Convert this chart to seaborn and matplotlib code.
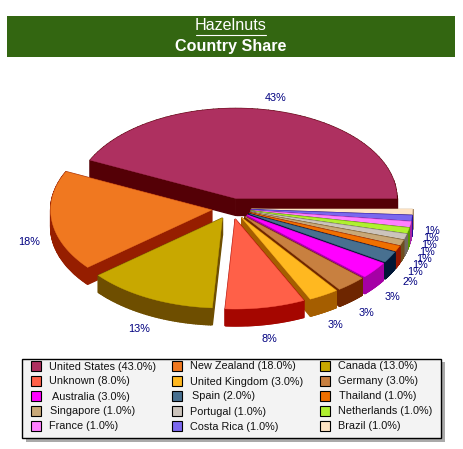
import numpy as np
import matplotlib.pyplot as plt
from matplotlib.colors import to_rgb
from matplotlib.patches import Rectangle
import seaborn as sns

countries = ['United States', 'New Zealand', 'Canada', 'Unknown', 'United Kingdom', 'Germany',
             'Australia', 'Spain', 'Thailand', 'Singapore', 'Portugal', 'Netherlands',
             'France', 'Costa Rica', 'Brazil']
shares = [43, 18, 13, 8, 3, 3, 3, 2, 1, 1, 1, 1, 1, 1, 1]
hex_colors = ['#AE3060', '#F07820', '#C8A800', '#FF6048', '#FFB820', '#C88040',
              '#FF00FF', '#487090', '#F07000', '#C8A878', '#CCC4BC', '#B0F030',
              '#FF80FF', '#7B68EE', '#FFE4C4']

title_top = 'Hazelnuts'
title_bottom = 'Country Share'

sns.set_theme(style='white')
plt.rcParams['font.family'] = ['Liberation Sans', 'DejaVu Sans']
palette = sns.color_palette(hex_colors)

fig, ax = plt.subplots(figsize=(4.63, 4.49), dpi=100)
ax.set_position([0, 0, 1, 1])
ax.set_xlim(0, 463)
ax.set_ylim(449, 0)
ax.axis('off')

# header band
ax.add_patch(Rectangle((7, 16), 448, 41, fc='#336611', ec='none'))
ax.text(231, 26, title_top, color='white', fontsize=11.6, ha='center', va='center')
ax.plot([195.5, 266], [34.5, 34.5], color='white', lw=0.8)
ax.text(231, 46, title_bottom, color='white', fontsize=11.6, fontweight='bold', ha='center', va='center')

# pie geometry in pixels
cx, cy = 231.5, 208.7
a, b = 161, 90
ex, ey = 20, 10.5
depth = 17


def darker(color):
    return tuple(max(c - 90 / 255, 0) for c in to_rgb(color))


ends = np.cumsum(shares) / 100 * 2 * np.pi
starts = ends - np.array(shares) / 100 * 2 * np.pi
mids = (starts + ends) / 2

# far slices first, so nearer ones paint over them
order = np.argsort(-np.sin(mids))
for i in order:
    ox = cx + ex * np.cos(mids[i])
    oy = cy - ey * np.sin(mids[i])
    t = np.linspace(starts[i], ends[i], 80)
    xs = np.r_[ox, ox + a * np.cos(t)]
    ys = np.r_[oy, oy - b * np.sin(t)]

    # walls: one quad per outline segment, thick edge hides the seams
    for j in range(len(xs)):
        k = (j + 1) % len(xs)
        ax.fill([xs[j], xs[k], xs[k], xs[j]], [ys[j], ys[k], ys[k] + depth, ys[j] + depth],
                color=darker(palette[i]), lw=1)
    ax.fill(xs, ys, color=palette[i], lw=0.3)

    # the 1% labels sit a little closer in
    f = 1.12 if shares[i] == 1 else 1.145
    lx = ox + a * f * np.cos(mids[i])
    ly = oy - b * f * np.sin(mids[i]) + (depth + 2 if np.sin(mids[i]) < 0 else 0)
    ax.text(lx, ly, f'{shares[i]}%', color='#000080', fontsize=7.8, ha='center', va='center', zorder=5)

# legend box
ax.add_patch(Rectangle((26, 362), 419, 80, fc='#AAAAAA', ec='none', zorder=6))
ax.add_patch(Rectangle((21.5, 358.5), 419.5, 79.5, fc='#F3F3F3', ec='black', lw=1, zorder=7))
col_swatch = [31, 172, 320]
col_text = [49, 190.5, 338.5]
row_y = [366, 381, 396, 411, 426]
# the original legend text is not quite on its grid
nudge = {'United States': (0, 1), 'Australia': (2.5, 1), 'Singapore': (1.5, 0), 'Spain': (1, 0),
         'United Kingdom': (0, 1), 'Portugal': (0, 1), 'Costa Rica': (0, 1), 'Thailand': (0.5, 0)}
for n, name in enumerate(countries):
    row, col = n // 3, n % 3
    dx, dy = nudge.get(name, (0, 0))
    ax.add_patch(Rectangle((col_swatch[col], row_y[row] - 5), 10, 10, fc=palette[n], ec='black', lw=0.8, zorder=8))
    ax.text(col_text[col] + dx, row_y[row] + dy, f'{name} ({shares[n]:.1f}%)', fontsize=7.8, color='#111111',
            ha='left', va='center', zorder=8)

plt.savefig('out.png', dpi=100)
